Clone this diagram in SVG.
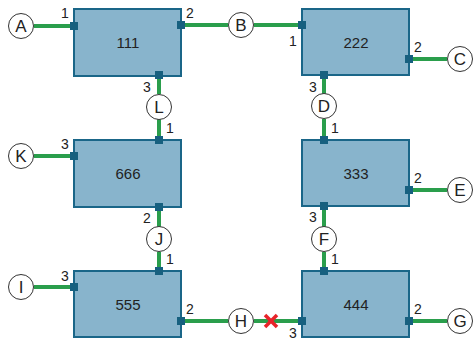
<svg xmlns="http://www.w3.org/2000/svg" width="473" height="340" viewBox="0 0 473 340">
  <style>
    .box { fill: #88b4cc; stroke: #1a6688; stroke-width: 2; }
    .port { fill: #17607f; }
    .wire { stroke: #2a9e4c; stroke-width: 4; fill: none; }
    .term { fill: #ffffff; stroke: #333333; stroke-width: 1; }
    .tl { font-family: "Liberation Sans", Arial, sans-serif; font-size: 17px; fill: #222; text-anchor: middle; dominant-baseline: central; }
    .nl { font-family: "Liberation Sans", Arial, sans-serif; font-size: 15px; fill: #222; text-anchor: middle; dominant-baseline: central; }
    .pl { font-family: "Liberation Sans", Arial, sans-serif; font-size: 14px; fill: #222; text-anchor: middle; dominant-baseline: central; }
    .cut { stroke: #e8242a; stroke-width: 3.5; stroke-linecap: butt; }
  </style>

  <!-- connectors -->
  <g id="connectors">
    <line class="wire" x1="34" y1="26" x2="74" y2="26"/>
    <line class="wire" x1="181" y1="25" x2="228" y2="25"/>
    <line class="wire" x1="254" y1="25" x2="302" y2="25"/>
    <line class="wire" x1="410" y1="59" x2="447" y2="59"/>
    <line class="wire" x1="159" y1="76" x2="159" y2="94"/>
    <line class="wire" x1="159" y1="119" x2="159" y2="140"/>
    <line class="wire" x1="324" y1="75" x2="324" y2="94"/>
    <line class="wire" x1="324" y1="119" x2="324" y2="140"/>
    <line class="wire" x1="34" y1="156" x2="74" y2="156"/>
    <line class="wire" x1="410" y1="190" x2="447" y2="190"/>
    <line class="wire" x1="159" y1="207" x2="159" y2="227"/>
    <line class="wire" x1="159" y1="252" x2="159" y2="271"/>
    <line class="wire" x1="324" y1="206" x2="324" y2="227"/>
    <line class="wire" x1="324" y1="252" x2="324" y2="271"/>
    <line class="wire" x1="34" y1="287" x2="74" y2="287"/>
    <line class="wire" x1="181" y1="321" x2="228" y2="321"/>
    <line class="wire" x1="254" y1="321" x2="302" y2="321"/>
    <line class="wire" x1="410" y1="321" x2="447" y2="321"/>
    <!-- broken link marker -->
    <g id="cut">
      <line class="cut" x1="265" y1="315" x2="277" y2="327"/>
      <line class="cut" x1="277" y1="315" x2="265" y2="327"/>
    </g>
  </g>

  <!-- blocks -->
  <g id="n111">
    <rect class="box" x="74" y="9" width="107" height="67"/>
    <text class="nl" x="128" y="42">111</text>
    <rect class="port" x="70" y="22" width="8" height="8"/>
    <rect class="port" x="177" y="21" width="8" height="8"/>
    <rect class="port" x="155" y="71" width="8" height="8"/>
    <text class="pl" x="65" y="13">1</text>
    <text class="pl" x="190" y="13">2</text>
    <text class="pl" x="147" y="87">3</text>
  </g>
  <g id="n222">
    <rect class="box" x="302" y="9" width="107" height="66"/>
    <text class="nl" x="356" y="42">222</text>
    <rect class="port" x="298" y="21" width="8" height="8"/>
    <rect class="port" x="405" y="55" width="8" height="8"/>
    <rect class="port" x="320" y="71" width="8" height="8"/>
    <text class="pl" x="293" y="41">1</text>
    <text class="pl" x="418" y="47">2</text>
    <text class="pl" x="313" y="87">3</text>
  </g>
  <g id="n666">
    <rect class="box" x="74" y="140" width="107" height="67"/>
    <text class="nl" x="128" y="173">666</text>
    <rect class="port" x="155" y="136" width="8" height="8"/>
    <rect class="port" x="70" y="152" width="8" height="8"/>
    <rect class="port" x="155" y="203" width="8" height="8"/>
    <text class="pl" x="170" y="128">1</text>
    <text class="pl" x="65" y="144">3</text>
    <text class="pl" x="147" y="218">2</text>
  </g>
  <g id="n333">
    <rect class="box" x="302" y="140" width="107" height="66"/>
    <text class="nl" x="356" y="173">333</text>
    <rect class="port" x="320" y="136" width="8" height="8"/>
    <rect class="port" x="405" y="186" width="8" height="8"/>
    <rect class="port" x="320" y="202" width="8" height="8"/>
    <text class="pl" x="335" y="128">1</text>
    <text class="pl" x="418" y="178">2</text>
    <text class="pl" x="313" y="217">3</text>
  </g>
  <g id="n555">
    <rect class="box" x="74" y="271" width="107" height="66"/>
    <text class="nl" x="128" y="304">555</text>
    <rect class="port" x="155" y="267" width="8" height="8"/>
    <rect class="port" x="70" y="283" width="8" height="8"/>
    <rect class="port" x="177" y="317" width="8" height="8"/>
    <text class="pl" x="170" y="259">1</text>
    <text class="pl" x="65" y="276">3</text>
    <text class="pl" x="190" y="309">2</text>
  </g>
  <g id="n444">
    <rect class="box" x="302" y="271" width="107" height="66"/>
    <text class="nl" x="356" y="304">444</text>
    <rect class="port" x="320" y="267" width="8" height="8"/>
    <rect class="port" x="298" y="317" width="8" height="8"/>
    <rect class="port" x="405" y="317" width="8" height="8"/>
    <text class="pl" x="335" y="259">1</text>
    <text class="pl" x="293" y="333">3</text>
    <text class="pl" x="418" y="309">2</text>
  </g>

  <!-- terminals -->
  <g id="tA"><circle class="term" cx="21" cy="26" r="12.5"/><text class="tl" x="21" y="26">A</text></g>
  <g id="tB"><circle class="term" cx="241" cy="25" r="12.5"/><text class="tl" x="241" y="25">B</text></g>
  <g id="tC"><circle class="term" cx="460" cy="59" r="12.5"/><text class="tl" x="460" y="59">C</text></g>
  <g id="tD"><circle class="term" cx="324" cy="106" r="12.5"/><text class="tl" x="324" y="106">D</text></g>
  <g id="tL"><circle class="term" cx="159" cy="107" r="12.5"/><text class="tl" x="159" y="107">L</text></g>
  <g id="tK"><circle class="term" cx="21" cy="156" r="12.5"/><text class="tl" x="21" y="156">K</text></g>
  <g id="tE"><circle class="term" cx="460" cy="190" r="12.5"/><text class="tl" x="460" y="190">E</text></g>
  <g id="tJ"><circle class="term" cx="159" cy="239" r="12.5"/><text class="tl" x="159" y="239">J</text></g>
  <g id="tF"><circle class="term" cx="324" cy="239" r="12.5"/><text class="tl" x="324" y="239">F</text></g>
  <g id="tI"><circle class="term" cx="21" cy="287" r="12.5"/><text class="tl" x="21" y="287">I</text></g>
  <g id="tH"><circle class="term" cx="241" cy="321" r="12.5"/><text class="tl" x="241" y="321">H</text></g>
  <g id="tG"><circle class="term" cx="460" cy="321" r="12.5"/><text class="tl" x="460" y="321">G</text></g>
</svg>
